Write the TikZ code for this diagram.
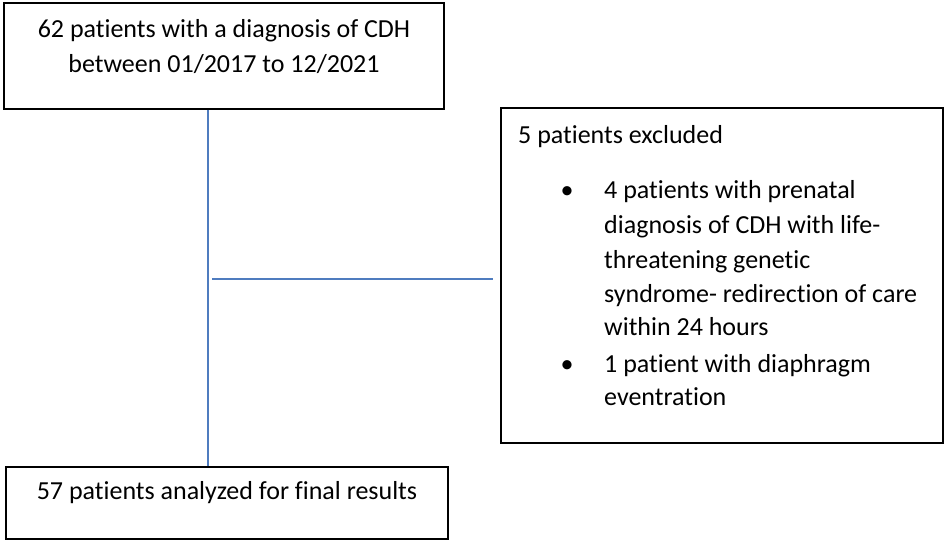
\documentclass[tikz,border=0pt]{standalone}
\usepackage{fontspec}
\setmainfont{Carlito}[Ligatures=NoCommon]
\definecolor{lineblue}{HTML}{4F7CBF}
\begin{document}
\begin{tikzpicture}[x=1pt,y=-1pt,
  box/.style={draw=black, line width=1.6pt, inner sep=0pt},
  txt/.style={inner sep=0pt, font=\fontsize{26}{30}\selectfont},
  conn/.style={draw=lineblue, line width=1.3pt}]
\useasboundingbox (0,0) rectangle (945,543);
% boxes
\node[box, minimum width=440, minimum height=106] (top) at (224,56) {};
\node[box, minimum width=442, minimum height=335] (excl) at (722,275.5) {};
\node[box, minimum width=442, minimum height=72] (bot) at (227,503) {};
% top text
\node[txt, anchor=base] (t1) at (224,38) {62 patients with a diagnosis of CDH};
\node[txt, anchor=base] (t2) at (224,73) {between 01/2017 to 12/2021};
% excluded text
\node[txt, anchor=base west] (e0) at (518,143) {5 patients excluded};
\node[txt, anchor=base] (b1) at (567,198) {•};
\node[txt, anchor=base west] (e1) at (604,198) {4 patients with prenatal};
\node[txt, anchor=base west] (e2) at (604,233) {diagnosis of CDH with life-};
\node[txt, anchor=base west] (e3) at (604,268) {threatening genetic};
\node[txt, anchor=base west] (e4) at (604,302) {syndrome- redirection of care};
\node[txt, anchor=base west] (e5) at (604,335) {within 24 hours};
\node[txt, anchor=base] (b2) at (567,372) {•};
\node[txt, anchor=base west] (e6) at (604,372) {1 patient with diaphragm};
\node[txt, anchor=base west] (e7) at (604,405) {eventration};
% bottom text
\node[txt, anchor=base] (r1) at (227,499) {57 patients analyzed for final results};
% connectors
\coordinate (j) at (208,279);
\coordinate (hend) at (493,279);
\draw[conn] (top.south -| j) -- (bot.north -| j);
\draw[conn] ([xshift=4pt]j) -- (hend);
\end{tikzpicture}
\end{document}
